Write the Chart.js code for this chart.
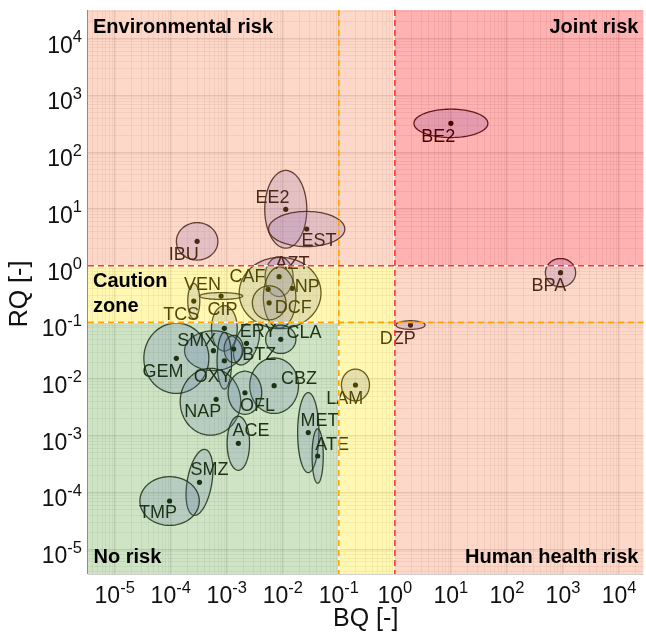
<!DOCTYPE html>
<html><head><meta charset="utf-8">
<script src="https://cdn.jsdelivr.net/npm/chart.js@4.4.1/dist/chart.umd.min.js"></script>
<style>html,body{margin:0;padding:0;background:#fff}</style>
</head><body>
<canvas id="c" width="646" height="636"></canvas>
<script>
// ---- data ----
const compounds = ['BE2','BPA','DZP','LAM','EE2','EST','IBU','AZT','CAF','NP','DCF','VEN','TCS','CIP','ERY','CLA','SMX','BTZ','GEM','OXY','CBZ','NAP','OFL','ACE','MET','ATE','SMZ','TMP'];
const bqValues = [10.0, 904, 1.90, 0.198, 0.0113, 0.0267, 2.96e-4, 8.59e-3, 5.48e-3, 0.0148, 5.71e-3, 7.92e-4, 2.58e-4, 9.06e-4, 2.25e-3, 9.20e-3, 5.78e-4, 1.33e-3, 1.26e-4, 9.06e-4, 7.00e-3, 6.46e-4, 2.11e-3, 1.61e-3, 0.0285, 0.0419, 3.26e-4, 9.55e-5];
const rqValues = [324, 0.753, 0.0899, 7.87e-3, 9.89, 4.44, 2.69, 0.640, 0.384, 0.399, 0.222, 0.292, 0.238, 0.0787, 0.0428, 0.0504, 0.0317, 0.0340, 0.0233, 0.0211, 7.66e-3, 4.41e-3, 5.75e-3, 7.38e-4, 1.14e-3, 4.41e-4, 1.51e-4, 7.08e-5];
// centre of each uncertainty ellipse (null = same as point)
const bqCentre = [null,null,null,null,null,null,null,null,8.95e-3,8.77e-3,null,null,null,null,null,null,null,null,null,null,null,5.12e-4,null,null,null,null,null,null];
const rqCentre = [null,null,null,null,null,null,null,null,0.330,0.275,null,null,null,null,null,null,null,null,null,null,null,3.99e-3,null,null,null,null,null,null];
// uncertainty half-ranges (decades) of each ellipse
const bqSpread = [0.66, 0.27, 0.26, 0.25, 0.375, 0.68, 0.37, 0.25, 0.73, 0.29, 0.30, 0.385, 0.107, 0.23, 0.20, 0.27, 0.515, 0.17, 0.58, 0.13, 0.435, 0.54, 0.30, 0.20, 0.19, 0.10, 0.22, 0.53];
const rqSpread = [0.25, 0.25, 0.076, 0.28, 0.685, 0.31, 0.33, 0.35, 0.63, 0.54, 0.30, 0.06, 0.31, 0.40, 0.40, 0.25, 0.35, 0.24, 0.62, 0.50, 0.49, 0.59, 0.38, 0.476, 0.705, 0.48, 0.59, 0.43];
const spreadTilt = [0,0,0,0,0,0,0,0,0,0,0,0,0,0,-20,0,0,0,0,0,0,0,0,0,0,0,-10,0];
const xTickExponents = [-5,-4,-3,-2,-1,0,1,2,3,4];
const yTickExponents = [-5,-4,-3,-2,-1,0,1,2,3,4];
const zoneTitles = ['Environmental risk','Joint risk','Caution','zone','No risk','Human health risk'];
const axisTitles = {x:'BQ [-]', y:'RQ [-]'};

// ---- layout (label offsets in decades from each point) ----
const labelOffset = [[-0.226,-0.241],[-0.208,-0.235],[-0.226,-0.247],[-0.19,-0.247],[-0.238,0.194],[0.219,-0.206],[-0.238,-0.241],[0.237,0.219],[-0.368,0.211],[0.266,0.018],[0.431,-0.098],[-0.332,0.194],[-0.224,-0.246],[-0.035,0.323],[0.208,0.2],[0.414,0.116],[-0.297,0.176],[0.456,-0.106],[-0.238,-0.236],[-0.207,-0.293],[0.445,0.113],[-0.238,-0.219],[0.224,-0.234],[0.226,0.222],[0.202,0.211],[0.259,0.194],[0.178,0.217],[-0.207,-0.217]];

const FONT = '"Liberation Sans", Arial, Helvetica, sans-serif';
const lg = v => Math.log10(v);

function buildTicks(exps){
  return function(s){
    const t=[];
    const lo=Math.floor(lg(s.min)), hi=Math.ceil(lg(s.max));
    for(let e=lo;e<=hi;e++) for(let k=1;k<=9;k++){
      const v=k*Math.pow(10,e);
      if(v>=s.min && v<=s.max) t.push({value:v, major:(k===1 && exps.includes(e))});
    }
    s.ticks=t;
  };
}
const gridOpts = {
  color: c => (c.tick && c.tick.major) ? 'rgba(60,60,60,0.17)' : 'rgba(60,60,60,0.075)',
  lineWidth: c => (c.tick && c.tick.major) ? 1.4 : 1,
  drawTicks:false
};

function drawPow(ctx, exp, x, yBase, align){
  const base='10', sup=String(exp);
  ctx.font='23px '+FONT; const w1=ctx.measureText(base).width;
  ctx.font='16.5px '+FONT; const w2=ctx.measureText(sup).width;
  const tot=w1+w2;
  let x0 = align==='center' ? x-tot/2 : x-tot;
  ctx.textAlign='left'; ctx.textBaseline='alphabetic'; ctx.fillStyle='#111';
  ctx.font='23px '+FONT; ctx.fillText(base,x0,yBase);
  ctx.font='16.5px '+FONT; ctx.fillText(sup,x0+w1,yBase-10.5);
}

const riskPlugin = {
  id:'risk',
  beforeDraw(chart){
    const {ctx}=chart; ctx.save(); ctx.fillStyle='#fff'; ctx.fillRect(0,0,chart.width,chart.height); ctx.restore();
  },
  beforeDatasetsDraw(chart){
    const {ctx, scales:{x,y}, chartArea:a}=chart;
    ctx.save();
    ctx.beginPath(); ctx.rect(a.left,a.top,a.right-a.left,a.bottom-a.top); ctx.clip();
    compounds.forEach((c,i)=>{
      const cx=lg(bqCentre[i]===null?bqValues[i]:bqCentre[i]), cy=lg(rqCentre[i]===null?rqValues[i]:rqCentre[i]);
      const ax=bqSpread[i], ay=rqSpread[i], th=spreadTilt[i]*Math.PI/180;
      ctx.beginPath();
      for(let k=0;k<=90;k++){
        const t=k/90*2*Math.PI, u=ax*Math.cos(t), w=ay*Math.sin(t);
        const lx=cx+u*Math.cos(th)-w*Math.sin(th), ly=cy+u*Math.sin(th)+w*Math.cos(th);
        const X=x.getPixelForValue(Math.pow(10,lx)), Y=y.getPixelForValue(Math.pow(10,ly));
        if(k) ctx.lineTo(X,Y); else ctx.moveTo(X,Y);
      }
      ctx.closePath();
      ctx.fillStyle='rgba(95,105,225,0.22)'; ctx.fill();
      ctx.strokeStyle='rgba(0,0,0,0.85)'; ctx.lineWidth=1.3; ctx.stroke();
    });
    ctx.restore();
  },
  afterDatasetsDraw(chart){
    const {ctx, scales:{x,y}, chartArea:a}=chart;
    ctx.save();
    // compound labels
    ctx.font='18px '+FONT; ctx.fillStyle='#000'; ctx.textAlign='center'; ctx.textBaseline='middle';
    compounds.forEach((c,i)=>{
      const lx=lg(bqValues[i])+labelOffset[i][0], ly=lg(rqValues[i])+labelOffset[i][1];
      ctx.fillText(c, x.getPixelForValue(Math.pow(10,lx)), y.getPixelForValue(Math.pow(10,ly)));
    });
    // zone overlays
    const X01=x.getPixelForValue(0.1), X1=x.getPixelForValue(1), Y01=y.getPixelForValue(0.1), Y1=y.getPixelForValue(1);
    const L=a.left,R=a.right,T=a.top,B=a.bottom;
    const rect=(x0,y0,x1,y1,col)=>{ctx.fillStyle=col; ctx.fillRect(x0,y0,x1-x0,y1-y0);};
    rect(L,T,X1,Y1,'rgba(250,122,72,0.3)');
    rect(X1,T,R,Y1,'rgba(255,0,0,0.3)');
    rect(X1,Y1,R,B,'rgba(250,122,72,0.3)');
    rect(L,Y1,X1,Y01,'rgba(255,230,0,0.3)');
    rect(X01,Y01,X1,B,'rgba(255,230,0,0.3)');
    rect(L,Y01,X01,B,'rgba(95,165,60,0.3)');
    // white borders
    ctx.strokeStyle='rgba(255,255,255,0.95)'; ctx.lineWidth=1.5;
    const line=(x0,y0,x1,y1)=>{ctx.beginPath();ctx.moveTo(x0,y0);ctx.lineTo(x1,y1);ctx.stroke();};
    line(X1-1,T,X1-1,B); line(L,Y1,R,Y1); line(L,Y01,X01,Y01); line(X01,Y01,X01,B);
    // dashed threshold lines
    ctx.lineWidth=1.6; ctx.setLineDash([6,4]);
    ctx.strokeStyle='#ffa500'; line(L,Y01,R,Y01); line(X01,T,X01,B);
    ctx.strokeStyle='rgba(255,45,45,0.95)'; line(L,Y1,R,Y1); line(X1,T,X1,B);
    ctx.setLineDash([]);
    // axis lines
    ctx.lineWidth=1; ctx.strokeStyle='#8c8c8c'; line(L-0.5,T,L-0.5,B);
    ctx.strokeStyle='#d0d0d0'; line(L,B+0.5,R,B+0.5);
    // zone titles
    ctx.fillStyle='#000'; ctx.font='bold 20px '+FONT; ctx.textBaseline='alphabetic';
    ctx.textAlign='left';
    ctx.fillText(zoneTitles[0], L+5, T+22.7);
    ctx.fillText(zoneTitles[2], L+5, Y1+21.6);
    ctx.fillText(zoneTitles[3], L+5, Y1+46);
    ctx.fillText(zoneTitles[4], L+5.5, B-11.3);
    ctx.textAlign='right';
    ctx.fillText(zoneTitles[1], R-5, T+22.7);
    ctx.fillText(zoneTitles[5], R-5, B-10.7);
    // tick labels
    xTickExponents.forEach(e=>drawPow(ctx,e,x.getPixelForValue(Math.pow(10,e)),B+29.3,'center'));
    yTickExponents.forEach(e=>drawPow(ctx,e,82,y.getPixelForValue(Math.pow(10,e))+13.8,'right'));
    // axis titles
    ctx.fillStyle='#111'; ctx.font='25px '+FONT; ctx.textAlign='center'; ctx.textBaseline='alphabetic';
    ctx.fillText(axisTitles.x,(L+R)/2,626);
    ctx.translate(27,(T+B)/2+2); ctx.rotate(-Math.PI/2); ctx.fillText(axisTitles.y,0,0);
    ctx.restore();
  }
};

new Chart(document.getElementById('c').getContext('2d'),{
  type:'scatter',
  data:{datasets:[{data:compounds.map((c,i)=>({x:bqValues[i],y:rqValues[i]})),pointRadius:2.6,pointHoverRadius:2.6,backgroundColor:'#000',borderWidth:0}]},
  options:{
    responsive:false, animation:false, events:[],
    layout:{padding:{top:10,left:0,right:0,bottom:0}},
    plugins:{legend:{display:false},tooltip:{enabled:false}},
    scales:{
      x:{type:'logarithmic',position:'bottom',min:Math.pow(10,-5.476),max:Math.pow(10,4.435),
         afterBuildTicks:buildTicks(xTickExponents),afterFit(s){s.height=62;},
         ticks:{display:false},grid:gridOpts,border:{display:false}},
      y:{type:'logarithmic',position:'left',min:Math.pow(10,-5.437),max:Math.pow(10,4.51),
         afterBuildTicks:buildTicks(yTickExponents),afterFit(s){s.width=88;},
         ticks:{display:false},grid:gridOpts,border:{display:false}}
    }
  },
  plugins:[riskPlugin]
});
</script>
</body></html>
